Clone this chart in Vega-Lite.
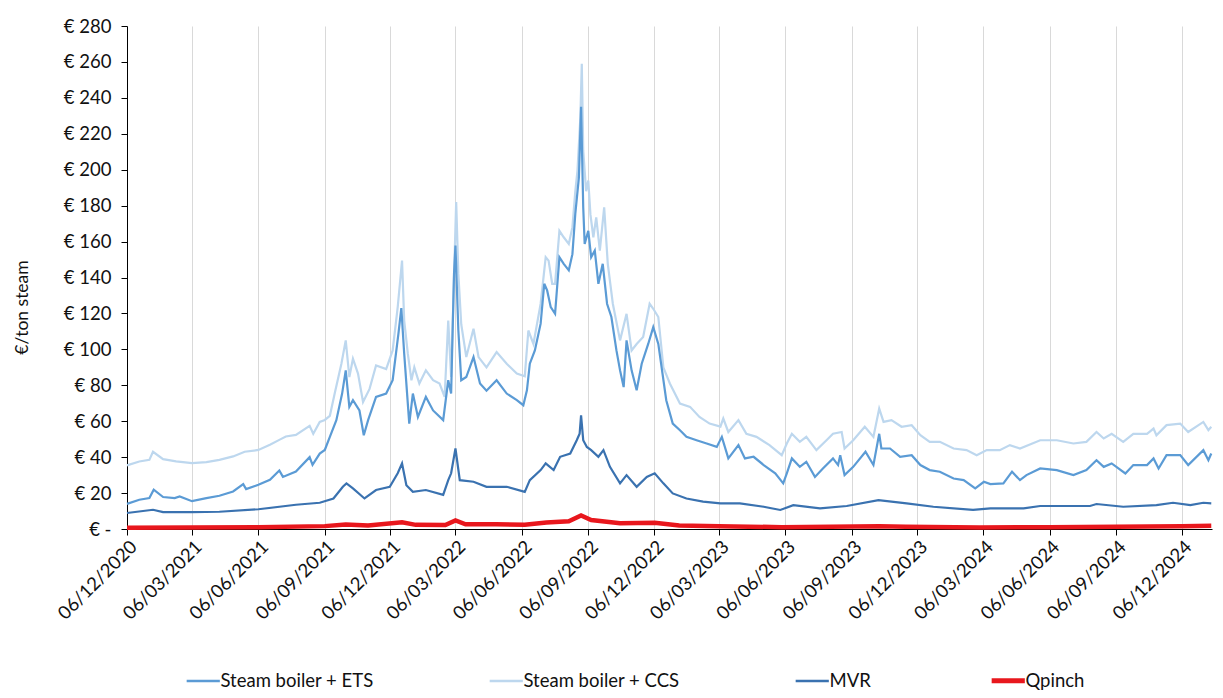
{
  "$schema": "https://vega.github.io/schema/vega-lite/v6.json",
  "width": 1085,
  "height": 503,
  "autosize": {"type": "none"},
  "padding": {"left": 127, "top": 26, "right": 11, "bottom": 169},
  "background": "white",
  "config": {
    "font": "Lato",
    "view": {"stroke": null},
    "axis": {"labelFont": "Lato", "titleFont": "Lato", "labelColor": "#111111", "titleColor": "#111111", "domainColor": "#000000", "tickColor": "#000000", "labelFontSize": 18.5, "titleFontSize": 17.5, "titleFontWeight": "normal"},
    "legend": {"labelFont": "Lato", "labelFontSize": 18.5, "labelColor": "#111111"}
  },
  "datasets": {
    "ccs": [
      {"d": "2020-12-06", "v": 35.4}, {"d": "2020-12-23", "v": 37.6}, {"d": "2021-01-06", "v": 38.5}, {"d": "2021-01-11", "v": 43}, {"d": "2021-01-25", "v": 38.9}, {"d": "2021-02-12", "v": 37.6}, {"d": "2021-03-06", "v": 36.7}, {"d": "2021-03-26", "v": 37.2}, {"d": "2021-04-13", "v": 38.5}, {"d": "2021-05-02", "v": 40.4}, {"d": "2021-05-18", "v": 43}, {"d": "2021-06-06", "v": 44}, {"d": "2021-06-22", "v": 46.9}, {"d": "2021-07-05", "v": 49.6}, {"d": "2021-07-14", "v": 51.5}, {"d": "2021-07-28", "v": 52.4}, {"d": "2021-08-16", "v": 57.4}, {"d": "2021-08-21", "v": 53}, {"d": "2021-08-30", "v": 59.6}, {"d": "2021-09-06", "v": 60.7}, {"d": "2021-09-13", "v": 63}, {"d": "2021-09-20", "v": 76}, {"d": "2021-09-29", "v": 92}, {"d": "2021-10-05", "v": 105}, {"d": "2021-10-10", "v": 84.6}, {"d": "2021-10-15", "v": 94.8}, {"d": "2021-10-22", "v": 86.5}, {"d": "2021-10-29", "v": 70.7}, {"d": "2021-11-07", "v": 78}, {"d": "2021-11-16", "v": 91}, {"d": "2021-11-30", "v": 89}, {"d": "2021-12-09", "v": 99.4}, {"d": "2021-12-16", "v": 123.5}, {"d": "2021-12-22", "v": 149.4}, {"d": "2021-12-25", "v": 116}, {"d": "2021-12-30", "v": 97.6}, {"d": "2022-01-04", "v": 82.8}, {"d": "2022-01-08", "v": 90}, {"d": "2022-01-15", "v": 81}, {"d": "2022-01-24", "v": 88.3}, {"d": "2022-02-03", "v": 82.8}, {"d": "2022-02-12", "v": 81}, {"d": "2022-02-19", "v": 73.5}, {"d": "2022-02-24", "v": 116}, {"d": "2022-02-28", "v": 84.6}, {"d": "2022-03-04", "v": 140}, {"d": "2022-03-07", "v": 182}, {"d": "2022-03-10", "v": 142}, {"d": "2022-03-14", "v": 114}, {"d": "2022-03-21", "v": 95.7}, {"d": "2022-03-31", "v": 111.5}, {"d": "2022-04-07", "v": 95.7}, {"d": "2022-04-18", "v": 90}, {"d": "2022-05-02", "v": 98.5}, {"d": "2022-05-16", "v": 92}, {"d": "2022-05-30", "v": 86.5}, {"d": "2022-06-10", "v": 85}, {"d": "2022-06-15", "v": 110.5}, {"d": "2022-06-22", "v": 103}, {"d": "2022-07-02", "v": 125.4}, {"d": "2022-07-09", "v": 151.3}, {"d": "2022-07-13", "v": 149.4}, {"d": "2022-07-18", "v": 136.5}, {"d": "2022-07-22", "v": 136.5}, {"d": "2022-07-28", "v": 166}, {"d": "2022-08-03", "v": 162.4}, {"d": "2022-08-10", "v": 158.7}, {"d": "2022-08-15", "v": 168}, {"d": "2022-08-19", "v": 188}, {"d": "2022-08-22", "v": 199.4}, {"d": "2022-08-26", "v": 229}, {"d": "2022-08-28", "v": 259}, {"d": "2022-08-30", "v": 210.6}, {"d": "2022-09-03", "v": 188}, {"d": "2022-09-06", "v": 194}, {"d": "2022-09-09", "v": 175}, {"d": "2022-09-13", "v": 162.4}, {"d": "2022-09-17", "v": 173.5}, {"d": "2022-09-22", "v": 155}, {"d": "2022-09-28", "v": 179}, {"d": "2022-10-03", "v": 147.6}, {"d": "2022-10-10", "v": 125.4}, {"d": "2022-10-20", "v": 105}, {"d": "2022-10-29", "v": 119.8}, {"d": "2022-11-05", "v": 99.4}, {"d": "2022-11-12", "v": 103}, {"d": "2022-11-21", "v": 106.9}, {"d": "2022-11-30", "v": 125.4}, {"d": "2022-12-05", "v": 122.6}, {"d": "2022-12-12", "v": 118}, {"d": "2022-12-19", "v": 90}, {"d": "2022-12-28", "v": 81}, {"d": "2023-01-11", "v": 69.8}, {"d": "2023-01-25", "v": 68}, {"d": "2023-02-07", "v": 62.4}, {"d": "2023-02-21", "v": 58.7}, {"d": "2023-03-08", "v": 57}, {"d": "2023-03-12", "v": 61.5}, {"d": "2023-03-19", "v": 54}, {"d": "2023-04-02", "v": 60.6}, {"d": "2023-04-13", "v": 53}, {"d": "2023-04-27", "v": 51.3}, {"d": "2023-05-15", "v": 46.7}, {"d": "2023-06-01", "v": 41.1}, {"d": "2023-06-08", "v": 47.6}, {"d": "2023-06-15", "v": 53}, {"d": "2023-06-26", "v": 48.5}, {"d": "2023-07-05", "v": 51.3}, {"d": "2023-07-19", "v": 43.9}, {"d": "2023-08-02", "v": 49.4}, {"d": "2023-08-11", "v": 53}, {"d": "2023-08-23", "v": 54}, {"d": "2023-08-27", "v": 44.8}, {"d": "2023-09-08", "v": 49.4}, {"d": "2023-09-24", "v": 56.9}, {"d": "2023-10-06", "v": 51.3}, {"d": "2023-10-14", "v": 67}, {"d": "2023-10-20", "v": 59.6}, {"d": "2023-10-31", "v": 60.6}, {"d": "2023-11-14", "v": 56.9}, {"d": "2023-11-28", "v": 57.8}, {"d": "2023-12-10", "v": 52.2}, {"d": "2023-12-23", "v": 48.5}, {"d": "2024-01-06", "v": 48.5}, {"d": "2024-01-25", "v": 44.8}, {"d": "2024-02-12", "v": 43.9}, {"d": "2024-02-26", "v": 41.1}, {"d": "2024-03-11", "v": 43.9}, {"d": "2024-03-29", "v": 43.9}, {"d": "2024-04-12", "v": 46.7}, {"d": "2024-04-26", "v": 44.8}, {"d": "2024-05-24", "v": 49.4}, {"d": "2024-06-16", "v": 49.4}, {"d": "2024-07-09", "v": 47.6}, {"d": "2024-07-27", "v": 48.5}, {"d": "2024-08-10", "v": 54}, {"d": "2024-08-20", "v": 50.4}, {"d": "2024-08-31", "v": 53}, {"d": "2024-09-16", "v": 48.5}, {"d": "2024-09-30", "v": 53}, {"d": "2024-10-19", "v": 53}, {"d": "2024-10-28", "v": 55.9}, {"d": "2024-11-01", "v": 52.2}, {"d": "2024-11-15", "v": 57.8}, {"d": "2024-12-04", "v": 58.7}, {"d": "2024-12-15", "v": 54}, {"d": "2025-01-05", "v": 59.6}, {"d": "2025-01-12", "v": 55}, {"d": "2025-01-16", "v": 56.9}
    ],
    "ets": [
      {"d": "2020-12-06", "v": 14}, {"d": "2020-12-23", "v": 16.3}, {"d": "2021-01-06", "v": 17.2}, {"d": "2021-01-12", "v": 21.9}, {"d": "2021-01-25", "v": 17.8}, {"d": "2021-02-10", "v": 17.2}, {"d": "2021-02-17", "v": 18.1}, {"d": "2021-03-06", "v": 15.5}, {"d": "2021-03-26", "v": 17.2}, {"d": "2021-04-13", "v": 18.5}, {"d": "2021-05-02", "v": 20.9}, {"d": "2021-05-16", "v": 25}, {"d": "2021-05-20", "v": 22.2}, {"d": "2021-06-06", "v": 24.6}, {"d": "2021-06-22", "v": 27.4}, {"d": "2021-07-05", "v": 32.6}, {"d": "2021-07-10", "v": 29}, {"d": "2021-07-28", "v": 32}, {"d": "2021-08-16", "v": 40}, {"d": "2021-08-20", "v": 35.7}, {"d": "2021-08-30", "v": 42}, {"d": "2021-09-06", "v": 44}, {"d": "2021-09-13", "v": 51.3}, {"d": "2021-09-22", "v": 60.6}, {"d": "2021-09-30", "v": 75.4}, {"d": "2021-10-05", "v": 88.3}, {"d": "2021-10-10", "v": 68}, {"d": "2021-10-15", "v": 71.7}, {"d": "2021-10-24", "v": 66}, {"d": "2021-10-30", "v": 52.2}, {"d": "2021-11-05", "v": 60.6}, {"d": "2021-11-16", "v": 73.5}, {"d": "2021-11-30", "v": 75.4}, {"d": "2021-12-09", "v": 82.8}, {"d": "2021-12-17", "v": 108.7}, {"d": "2021-12-21", "v": 123}, {"d": "2021-12-25", "v": 97.6}, {"d": "2022-01-01", "v": 58.7}, {"d": "2022-01-06", "v": 75.4}, {"d": "2022-01-13", "v": 62.4}, {"d": "2022-01-24", "v": 73.5}, {"d": "2022-02-03", "v": 66}, {"d": "2022-02-17", "v": 60.6}, {"d": "2022-02-24", "v": 82.8}, {"d": "2022-02-28", "v": 75.4}, {"d": "2022-03-04", "v": 142}, {"d": "2022-03-06", "v": 157.8}, {"d": "2022-03-10", "v": 110.6}, {"d": "2022-03-14", "v": 82.8}, {"d": "2022-03-21", "v": 84.6}, {"d": "2022-03-31", "v": 95.7}, {"d": "2022-04-09", "v": 81}, {"d": "2022-04-18", "v": 77}, {"d": "2022-05-02", "v": 82.8}, {"d": "2022-05-16", "v": 75.4}, {"d": "2022-05-30", "v": 71.7}, {"d": "2022-06-08", "v": 68.9}, {"d": "2022-06-13", "v": 77.2}, {"d": "2022-06-17", "v": 92}, {"d": "2022-06-24", "v": 99.4}, {"d": "2022-07-02", "v": 114.3}, {"d": "2022-07-07", "v": 136.5}, {"d": "2022-07-11", "v": 132.8}, {"d": "2022-07-16", "v": 123.5}, {"d": "2022-07-22", "v": 119.8}, {"d": "2022-07-28", "v": 151.3}, {"d": "2022-08-03", "v": 147.6}, {"d": "2022-08-10", "v": 144}, {"d": "2022-08-15", "v": 153}, {"d": "2022-08-19", "v": 175.4}, {"d": "2022-08-24", "v": 195.7}, {"d": "2022-08-27", "v": 235}, {"d": "2022-08-30", "v": 179}, {"d": "2022-09-01", "v": 158.7}, {"d": "2022-09-06", "v": 166}, {"d": "2022-09-10", "v": 151.3}, {"d": "2022-09-15", "v": 155}, {"d": "2022-09-20", "v": 136.5}, {"d": "2022-09-26", "v": 147.6}, {"d": "2022-10-02", "v": 125.4}, {"d": "2022-10-08", "v": 118}, {"d": "2022-10-15", "v": 99.4}, {"d": "2022-10-20", "v": 88.3}, {"d": "2022-10-25", "v": 79}, {"d": "2022-10-29", "v": 105}, {"d": "2022-11-05", "v": 88.3}, {"d": "2022-11-12", "v": 77.2}, {"d": "2022-11-19", "v": 92}, {"d": "2022-11-28", "v": 103}, {"d": "2022-12-05", "v": 112.4}, {"d": "2022-12-12", "v": 103}, {"d": "2022-12-23", "v": 71.7}, {"d": "2023-01-01", "v": 58.7}, {"d": "2023-01-11", "v": 55}, {"d": "2023-01-20", "v": 51.3}, {"d": "2023-02-03", "v": 49.4}, {"d": "2023-02-17", "v": 47.6}, {"d": "2023-03-03", "v": 45.7}, {"d": "2023-03-10", "v": 51.3}, {"d": "2023-03-19", "v": 39.3}, {"d": "2023-04-02", "v": 46.7}, {"d": "2023-04-11", "v": 39.3}, {"d": "2023-04-23", "v": 40.2}, {"d": "2023-05-07", "v": 35.6}, {"d": "2023-05-23", "v": 31}, {"d": "2023-06-03", "v": 25.4}, {"d": "2023-06-08", "v": 31}, {"d": "2023-06-15", "v": 39.3}, {"d": "2023-06-26", "v": 34.6}, {"d": "2023-07-05", "v": 37.4}, {"d": "2023-07-17", "v": 29}, {"d": "2023-07-28", "v": 33.7}, {"d": "2023-08-11", "v": 39.3}, {"d": "2023-08-18", "v": 35.6}, {"d": "2023-08-21", "v": 41.1}, {"d": "2023-08-27", "v": 30}, {"d": "2023-09-08", "v": 34.6}, {"d": "2023-09-25", "v": 43}, {"d": "2023-10-06", "v": 35.6}, {"d": "2023-10-14", "v": 53}, {"d": "2023-10-17", "v": 44.8}, {"d": "2023-10-29", "v": 44.8}, {"d": "2023-11-12", "v": 40.2}, {"d": "2023-11-28", "v": 41.1}, {"d": "2023-12-10", "v": 35.6}, {"d": "2023-12-23", "v": 32.8}, {"d": "2024-01-06", "v": 31.9}, {"d": "2024-01-25", "v": 28.1}, {"d": "2024-02-08", "v": 27.2}, {"d": "2024-02-24", "v": 22.6}, {"d": "2024-03-07", "v": 26.3}, {"d": "2024-03-16", "v": 25}, {"d": "2024-04-03", "v": 25.4}, {"d": "2024-04-15", "v": 31.9}, {"d": "2024-04-26", "v": 27.2}, {"d": "2024-05-05", "v": 30}, {"d": "2024-05-24", "v": 33.7}, {"d": "2024-06-16", "v": 32.8}, {"d": "2024-07-09", "v": 30}, {"d": "2024-07-27", "v": 32.8}, {"d": "2024-08-10", "v": 38.3}, {"d": "2024-08-20", "v": 34.6}, {"d": "2024-08-31", "v": 36.5}, {"d": "2024-09-19", "v": 30.9}, {"d": "2024-09-30", "v": 35.6}, {"d": "2024-10-19", "v": 35.6}, {"d": "2024-10-28", "v": 39.3}, {"d": "2024-11-04", "v": 33.7}, {"d": "2024-11-15", "v": 41.1}, {"d": "2024-12-04", "v": 41.1}, {"d": "2024-12-15", "v": 35.6}, {"d": "2025-01-05", "v": 43.9}, {"d": "2025-01-12", "v": 38.3}, {"d": "2025-01-16", "v": 42}
    ],
    "mvr": [
      {"d": "2020-12-06", "v": 8.9}, {"d": "2021-01-11", "v": 10.7}, {"d": "2021-01-25", "v": 9.4}, {"d": "2021-03-06", "v": 9.4}, {"d": "2021-04-13", "v": 9.6}, {"d": "2021-06-06", "v": 11}, {"d": "2021-07-28", "v": 13.5}, {"d": "2021-08-30", "v": 14.6}, {"d": "2021-09-18", "v": 17}, {"d": "2021-10-01", "v": 23.5}, {"d": "2021-10-06", "v": 25.4}, {"d": "2021-10-15", "v": 22.6}, {"d": "2021-10-31", "v": 17}, {"d": "2021-11-16", "v": 21.7}, {"d": "2021-12-05", "v": 23.5}, {"d": "2021-12-16", "v": 31}, {"d": "2021-12-22", "v": 36.5}, {"d": "2021-12-28", "v": 24.4}, {"d": "2022-01-06", "v": 20.7}, {"d": "2022-01-24", "v": 21.7}, {"d": "2022-02-17", "v": 19}, {"d": "2022-02-24", "v": 27.2}, {"d": "2022-02-28", "v": 31}, {"d": "2022-03-06", "v": 44.8}, {"d": "2022-03-12", "v": 27.2}, {"d": "2022-03-31", "v": 26.3}, {"d": "2022-04-18", "v": 23.5}, {"d": "2022-05-16", "v": 23.5}, {"d": "2022-06-10", "v": 20.7}, {"d": "2022-06-17", "v": 27.2}, {"d": "2022-07-02", "v": 32.8}, {"d": "2022-07-09", "v": 36.5}, {"d": "2022-07-20", "v": 32.8}, {"d": "2022-07-29", "v": 40.2}, {"d": "2022-08-12", "v": 42}, {"d": "2022-08-21", "v": 49.4}, {"d": "2022-08-25", "v": 53}, {"d": "2022-08-27", "v": 63.3}, {"d": "2022-08-30", "v": 49.4}, {"d": "2022-09-04", "v": 45.7}, {"d": "2022-09-10", "v": 43.9}, {"d": "2022-09-20", "v": 40.2}, {"d": "2022-09-27", "v": 43.9}, {"d": "2022-10-06", "v": 34.6}, {"d": "2022-10-20", "v": 25.4}, {"d": "2022-10-29", "v": 30}, {"d": "2022-11-12", "v": 23.5}, {"d": "2022-11-26", "v": 29}, {"d": "2022-12-07", "v": 31}, {"d": "2022-12-19", "v": 25.4}, {"d": "2023-01-01", "v": 19.8}, {"d": "2023-01-20", "v": 17}, {"d": "2023-02-12", "v": 15.2}, {"d": "2023-03-08", "v": 14.3}, {"d": "2023-04-04", "v": 14.3}, {"d": "2023-05-07", "v": 12.4}, {"d": "2023-05-30", "v": 10.6}, {"d": "2023-06-17", "v": 13.3}, {"d": "2023-07-24", "v": 11.5}, {"d": "2023-08-30", "v": 12.8}, {"d": "2023-10-13", "v": 16.1}, {"d": "2023-11-21", "v": 14.3}, {"d": "2023-12-28", "v": 12.4}, {"d": "2024-02-21", "v": 10.6}, {"d": "2024-03-16", "v": 11.5}, {"d": "2024-05-01", "v": 11.5}, {"d": "2024-05-24", "v": 12.8}, {"d": "2024-08-01", "v": 12.8}, {"d": "2024-08-10", "v": 13.9}, {"d": "2024-09-16", "v": 12.4}, {"d": "2024-11-01", "v": 13.3}, {"d": "2024-11-24", "v": 14.6}, {"d": "2024-12-18", "v": 13.3}, {"d": "2025-01-05", "v": 14.6}, {"d": "2025-01-16", "v": 14.3}
    ],
    "qp": [
      {"d": "2020-12-06", "v": 0.7}, {"d": "2021-03-06", "v": 0.8}, {"d": "2021-06-06", "v": 1.0}, {"d": "2021-09-06", "v": 1.6}, {"d": "2021-10-05", "v": 2.5}, {"d": "2021-11-05", "v": 2.0}, {"d": "2021-12-22", "v": 3.8}, {"d": "2022-01-10", "v": 2.3}, {"d": "2022-02-20", "v": 2.2}, {"d": "2022-03-06", "v": 4.8}, {"d": "2022-03-20", "v": 2.6}, {"d": "2022-05-01", "v": 2.6}, {"d": "2022-06-10", "v": 2.4}, {"d": "2022-07-10", "v": 3.6}, {"d": "2022-08-10", "v": 4.3}, {"d": "2022-08-27", "v": 7.5}, {"d": "2022-09-10", "v": 5}, {"d": "2022-10-20", "v": 3.2}, {"d": "2022-12-07", "v": 3.5}, {"d": "2023-01-10", "v": 2}, {"d": "2023-03-06", "v": 1.6}, {"d": "2023-06-01", "v": 1.0}, {"d": "2023-10-14", "v": 1.6}, {"d": "2023-11-20", "v": 1.3}, {"d": "2024-03-01", "v": 0.9}, {"d": "2024-06-06", "v": 1.0}, {"d": "2024-09-06", "v": 1.2}, {"d": "2024-12-06", "v": 1.6}, {"d": "2025-01-16", "v": 1.8}
    ]
  },
  "encoding": {
    "x": {
      "field": "d", "type": "temporal",
      "scale": {"type": "utc", "domain": [{"year": 2020, "month": 12, "date": 6, "utc": true}, {"year": 2025, "month": 1, "date": 17, "utc": true}]},
      "axis": {
        "title": null, "labelExpr": "utcFormat(datum.value, '%d/%m/%Y')", "labelAngle": -45, "labelAlign": "right", "labelBaseline": "top", "labelPadding": 2, "tickSize": 6, "labelOverlap": false, "labelFlush": false,
        "grid": true, "gridColor": "#d9d9d9", "gridWidth": 1,
        "values": [
          {"year": 2020, "month": 12, "date": 6, "utc": true}, {"year": 2021, "month": 3, "date": 6, "utc": true}, {"year": 2021, "month": 6, "date": 6, "utc": true}, {"year": 2021, "month": 9, "date": 6, "utc": true},
          {"year": 2021, "month": 12, "date": 6, "utc": true}, {"year": 2022, "month": 3, "date": 6, "utc": true}, {"year": 2022, "month": 6, "date": 6, "utc": true}, {"year": 2022, "month": 9, "date": 6, "utc": true},
          {"year": 2022, "month": 12, "date": 6, "utc": true}, {"year": 2023, "month": 3, "date": 6, "utc": true}, {"year": 2023, "month": 6, "date": 6, "utc": true}, {"year": 2023, "month": 9, "date": 6, "utc": true},
          {"year": 2023, "month": 12, "date": 6, "utc": true}, {"year": 2024, "month": 3, "date": 6, "utc": true}, {"year": 2024, "month": 6, "date": 6, "utc": true}, {"year": 2024, "month": 9, "date": 6, "utc": true},
          {"year": 2024, "month": 12, "date": 6, "utc": true}
        ]
      }
    },
    "y": {
      "field": "v", "type": "quantitative",
      "scale": {"domain": [0, 280], "nice": false, "zero": true},
      "axis": {
        "title": "€/ton steam", "grid": false, "values": [0, 20, 40, 60, 80, 100, 120, 140, 160, 180, 200, 220, 240, 260, 280],
        "labelExpr": "datum.value == 0 ? '€ -' : '€ ' + datum.value", "tickSize": 6, "labelPadding": 10,
        "titleX": -105, "titleY": 281, "titleAngle": -90, "titleAlign": "center", "titleBaseline": "middle"
      }
    }
  },
  "layer": [
    {
      "data": {"name": "ccs"},
      "mark": {"type": "line", "strokeWidth": 2.2, "interpolate": "linear"},
      "encoding": {
        "color": {
          "datum": "Steam boiler + CCS", "type": "nominal",
          "scale": {"domain": ["Steam boiler + ETS", "Steam boiler + CCS", "MVR", "Qpinch"], "range": ["#5b9bd5", "#bdd7ee", "#3a72b0", "#e8171d"]},
          "legend": {
            "title": null, "orient": "none", "legendX": 67, "legendY": 645, "direction": "horizontal", "columns": 4,
            "symbolType": "stroke", "symbolSize": 1100, "symbolStrokeWidth": 2.5, "columnPadding": 110, "labelOffset": 8, "labelLimit": 400,
            "encode": {"symbols": {"update": {"strokeWidth": {"signal": "datum.value === 'Qpinch' ? 5 : 2.5"}}}}
          }
        }
      }
    },
    {
      "data": {"name": "ets"},
      "mark": {"type": "line", "strokeWidth": 2.2},
      "encoding": {"color": {"datum": "Steam boiler + ETS", "type": "nominal"}}
    },
    {
      "data": {"name": "mvr"},
      "mark": {"type": "line", "strokeWidth": 2.2},
      "encoding": {"color": {"datum": "MVR", "type": "nominal"}}
    },
    {
      "data": {"name": "qp"},
      "mark": {"type": "line", "strokeWidth": 4.5},
      "encoding": {"color": {"datum": "Qpinch", "type": "nominal"}}
    }
  ]
}
